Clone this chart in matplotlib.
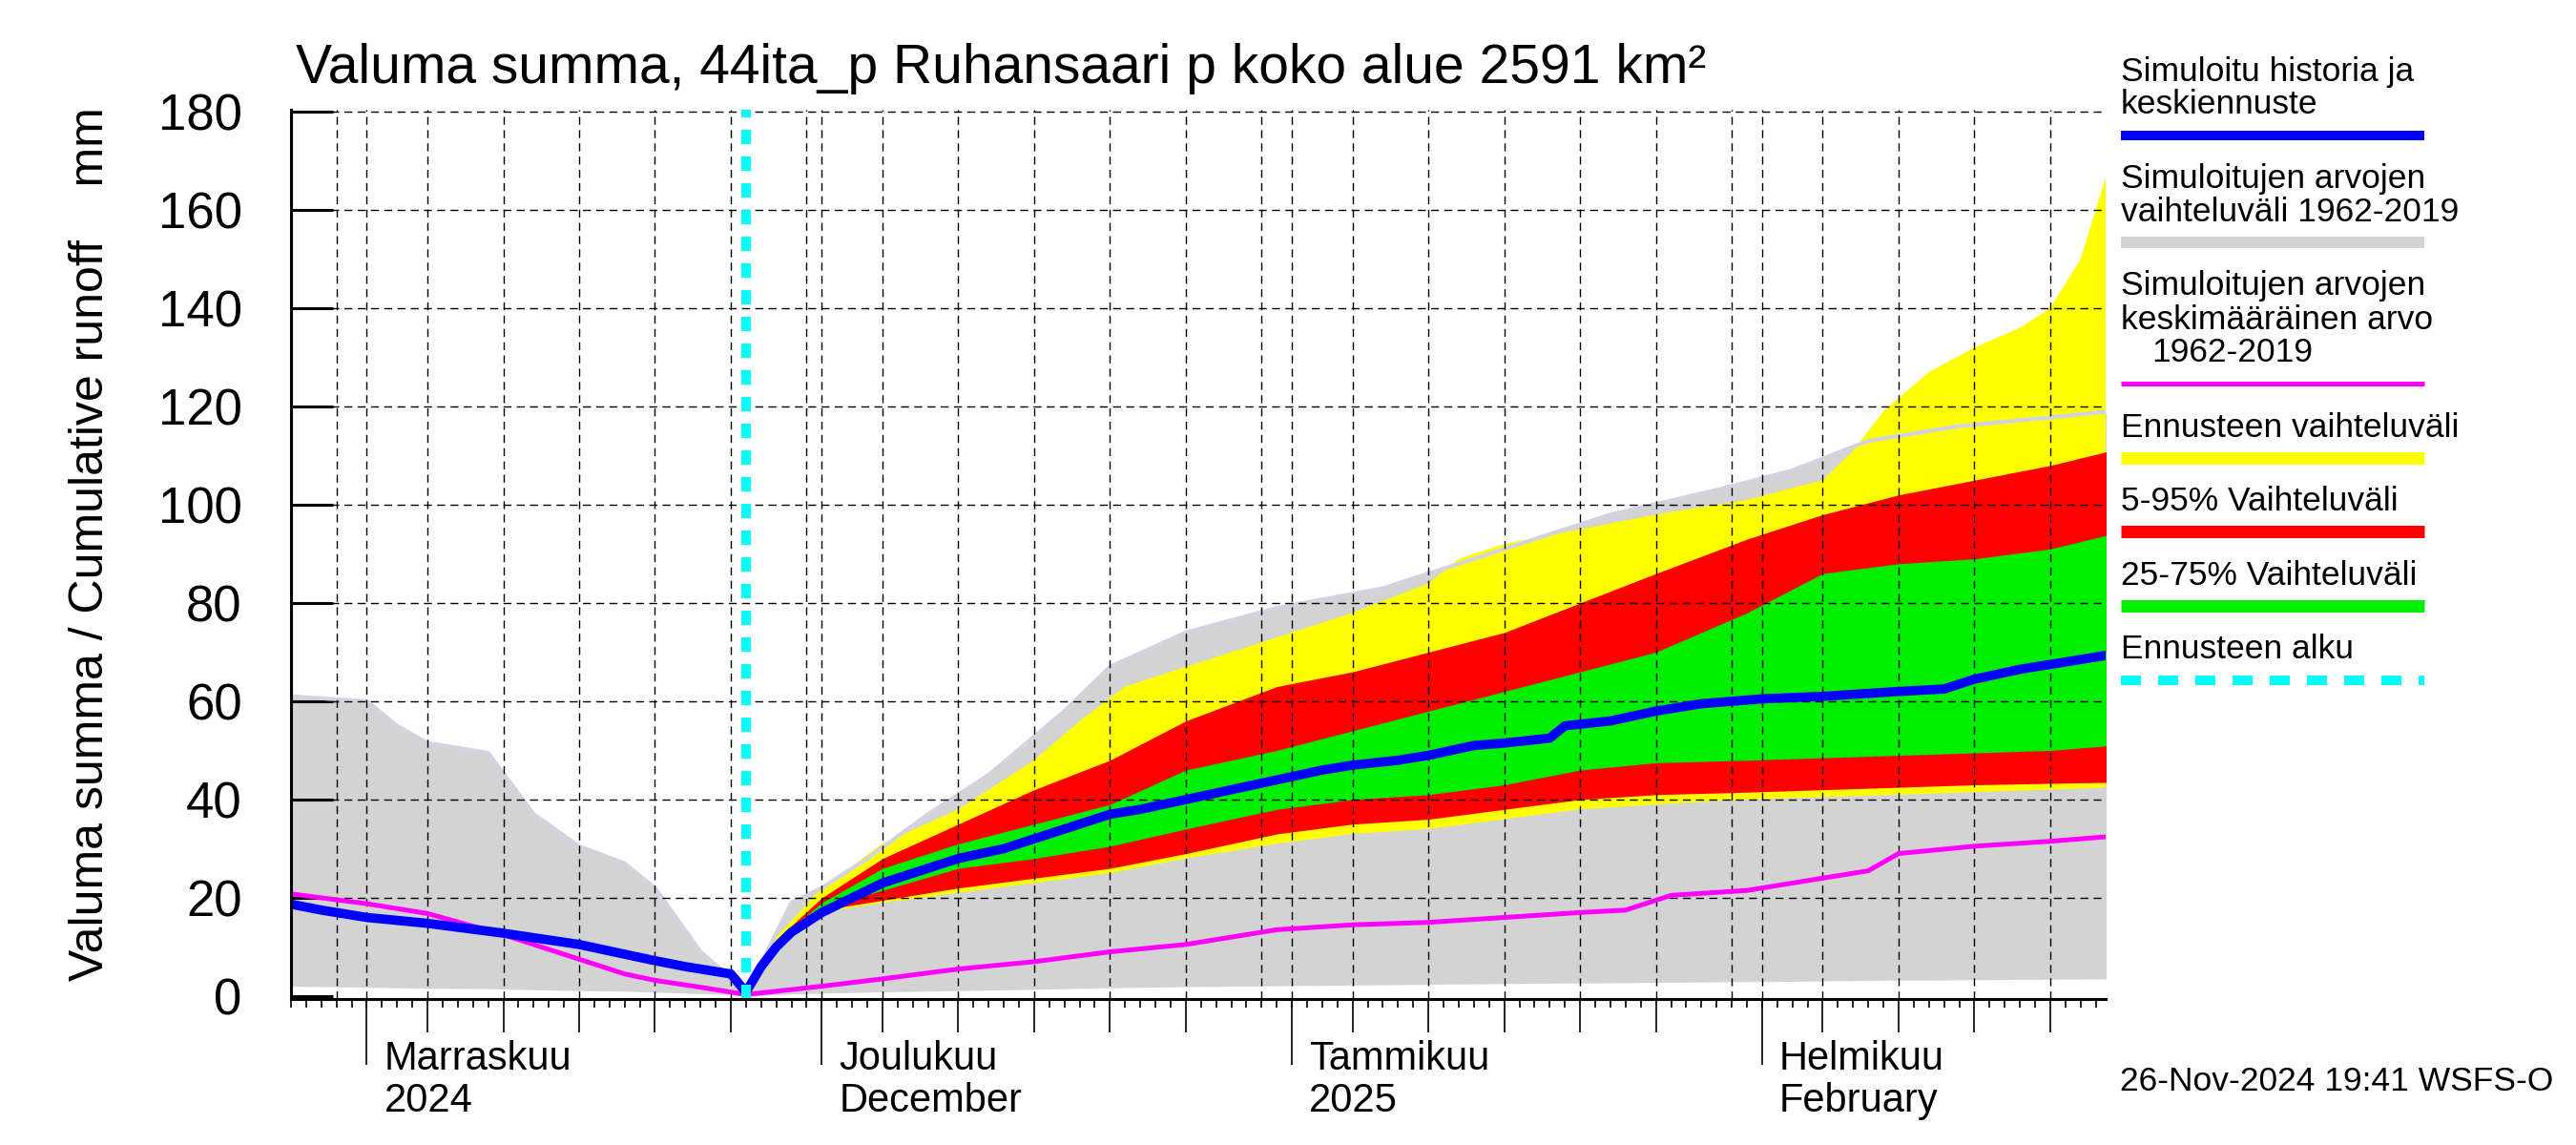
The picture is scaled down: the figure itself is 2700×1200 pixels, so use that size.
import matplotlib
matplotlib.use("Agg")
import matplotlib.pyplot as plt
import matplotlib.dates as mdates
import pandas as pd
import numpy as np
from matplotlib.lines import Line2D

plt.rcParams['font.family'] = ['Liberation Sans', 'DejaVu Sans']

# ---------------- data ----------------
title = "Valuma summa, 44ita_p Ruhansaari p koko alue 2591 km²"
ylabel = "Valuma summa / Cumulative runoff    mm"
timestamp = "26-Nov-2024 19:41 WSFS-O"
forecast_start = "2024-11-26"
month_labels = [("2024-11-01", "Marraskuu", "2024"),
                ("2024-12-01", "Joulukuu", "December"),
                ("2025-01-01", "Tammikuu", "2025"),
                ("2025-02-01", "Helmikuu", "February")]
yticks = [0, 20, 40, 60, 80, 100, 120, 140, 160, 180]

# historical range (gray)
hist_dates = ["2024-10-27", "2024-11-01", "2024-11-03", "2024-11-05", "2024-11-09",
              "2024-11-12", "2024-11-15", "2024-11-18", "2024-11-20", "2024-11-23",
              "2024-11-25", "2024-11-26", "2024-11-29", "2024-12-01", "2024-12-04",
              "2024-12-08", "2024-12-12", "2024-12-17", "2024-12-20", "2024-12-25",
              "2024-12-31", "2025-01-07", "2025-01-10", "2025-01-17", "2025-01-22",
              "2025-01-29", "2025-02-03", "2025-02-08", "2025-02-14", "2025-02-24"]
hist_max = [61, 60, 55, 51.5, 49.5, 37, 30.5, 27, 22, 9, 3.7, 0.5, 19, 22, 28,
            37, 45, 58, 67, 74, 79, 83, 86, 93, 98, 103, 107, 113, 116, 119]
hist_min = [2.0, 1.8, 1.7, 1.6, 1.5, 1.3, 1.1, 1.0, 0.8, 0.5, 0.3, 0.0, 0.4, 0.6, 0.8,
            1.0, 1.2, 1.5, 1.7, 1.9, 2.1, 2.3, 2.4, 2.6, 2.7, 2.9, 3.0, 3.2, 3.3, 3.5]

# historical mean (magenta)
mean_dates = ["2024-10-27", "2024-11-01", "2024-11-05", "2024-11-10", "2024-11-15",
              "2024-11-18", "2024-11-20", "2024-11-23", "2024-11-26", "2024-12-01",
              "2024-12-05", "2024-12-10", "2024-12-15", "2024-12-20", "2024-12-25",
              "2024-12-31", "2025-01-05", "2025-01-10", "2025-01-15", "2025-01-20",
              "2025-01-23", "2025-01-26", "2025-01-31", "2025-02-05", "2025-02-08",
              "2025-02-10", "2025-02-15", "2025-02-20", "2025-02-24"]
mean_vals = [20.8, 18.8, 16.8, 12.5, 7.5, 4.5, 3.2, 1.8, 0.3, 2, 3.5, 5.5, 7,
             9, 10.5, 13.5, 14.5, 15, 16, 17, 17.5, 20.5, 21.5, 24, 25.5, 29,
             30.5, 31.5, 32.5]

# simulated history + median forecast (blue)
med_dates = ["2024-10-27", "2024-10-29", "2024-11-01", "2024-11-05", "2024-11-10",
             "2024-11-15", "2024-11-20", "2024-11-22", "2024-11-25", "2024-11-26",
             "2024-11-27", "2024-11-28", "2024-11-29", "2024-11-30", "2024-12-01",
             "2024-12-03", "2024-12-05", "2024-12-08", "2024-12-10", "2024-12-13",
             "2024-12-15", "2024-12-18", "2024-12-20", "2024-12-22", "2024-12-25",
             "2024-12-28", "2024-12-31", "2025-01-03", "2025-01-05", "2025-01-08",
             "2025-01-10", "2025-01-13", "2025-01-15", "2025-01-18", "2025-01-19",
             "2025-01-22", "2025-01-25", "2025-01-28", "2025-02-01", "2025-02-05",
             "2025-02-10", "2025-02-13", "2025-02-15", "2025-02-18", "2025-02-21",
             "2025-02-24"]
med_vals = [18.7, 17.5, 16, 14.8, 12.8, 10.5, 7.2, 6.0, 4.5, 0.8,
            6, 10, 13, 15, 17, 20, 23, 26, 28, 30, 32, 35, 37, 38, 40,
            42, 44, 46, 47, 48, 49, 51, 51.5, 52.5, 55, 56, 58, 59.5, 60.5,
            61, 62, 62.5, 64.5, 66.5, 68, 69.5]

# forecast bands
fc_dates = ["2024-11-26", "2024-11-28", "2024-12-01", "2024-12-05", "2024-12-10",
            "2024-12-15", "2024-12-20", "2024-12-25", "2024-12-31", "2025-01-05",
            "2025-01-10", "2025-01-15", "2025-01-20", "2025-01-25", "2025-01-31",
            "2025-02-05", "2025-02-10", "2025-02-15", "2025-02-20", "2025-02-24"]
fc_min = [1.0, 10, 17, 19, 21, 23, 25, 28, 31, 33, 34, 36, 38, 39, 40, 40.5,
          41, 41.5, 42, 42.5]
p05 = [1.0, 10.5, 17.5, 19.5, 22, 24, 26, 29, 33, 35, 36, 38, 40, 41, 41.5,
       42, 42.5, 43, 43.3, 43.5]
p95 = [1.0, 11.5, 20, 28, 35, 42, 48, 56, 63, 66, 70, 74, 80, 86, 93, 98,
       102, 105, 108, 111]
p25 = [1.0, 10.8, 18, 21.5, 26, 28, 30.5, 34, 38, 40, 41, 43, 46, 47.5, 48,
       48.5, 49, 49.5, 50, 51]
p75 = [1.0, 11.2, 19, 26, 31, 35, 39, 46, 50, 54, 58, 62, 66, 70, 78, 86,
       88, 89, 91, 94]

# forecast maximum (yellow upper edge) on its own dates
fmax_dates = ["2024-11-26", "2024-11-28", "2024-12-01", "2024-12-05", "2024-12-10",
              "2024-12-15", "2024-12-18", "2024-12-21", "2024-12-25", "2024-12-31",
              "2025-01-05", "2025-01-10", "2025-01-12", "2025-01-15", "2025-01-20",
              "2025-01-25", "2025-01-31", "2025-02-05", "2025-02-07", "2025-02-09",
              "2025-02-12", "2025-02-15", "2025-02-18", "2025-02-20", "2025-02-22",
              "2025-02-24"]
fmax_vals = [1.0, 12, 22, 31, 38, 48, 56, 63, 67, 73, 78, 84, 89, 92, 95,
             98, 101, 105, 111, 119, 127, 132, 136, 140, 150, 170]

# ---------------- figure ----------------
W, H = 2700, 1200
fig = plt.figure(figsize=(W / 100, H / 100), dpi=100)
L, R, T, B = 305, 2207, 115, 1047
ax = fig.add_axes([L / W, 1 - B / H, (R - L) / W, (B - T) / H])

td = lambda s: pd.to_datetime(s)
hd = pd.to_datetime(hist_dates)
ax.fill_between(hd, hist_min, hist_max, color="#d3d3d3", lw=0, zorder=1)
fd = pd.to_datetime(fc_dates)
# yellow: polygon from the max edge forward and the min edge backward
ydates = list(pd.to_datetime(fmax_dates)) + list(fd[::-1])
yvals = list(fmax_vals) + list(fc_min[::-1])
ax.fill(ydates, yvals, color="#ffff00", lw=0, zorder=2)
ax.fill_between(fd, p05, p95, color="#ff0000", lw=0, zorder=2.1)
ax.fill_between(fd, p25, p75, color="#00ee00", lw=0, zorder=2.2)
ax.plot(hd, hist_max, color="#d3d3e0", lw=3, zorder=2.3)

ax.plot(pd.to_datetime(mean_dates), mean_vals, color="#ff00ff", lw=3.6, zorder=5)
ax.plot(pd.to_datetime(med_dates), med_vals, color="#0000ff", lw=7, zorder=6,
        solid_joinstyle="round")
ax.axvline(td(forecast_start), color="#00ffff", lw=7.2, dashes=(1.5, 1.3), zorder=7)

x0 = td("2024-10-27")
x1 = td("2024-11-01") + pd.Timedelta(days=(R - 384) / 15.9)

# grid
days = pd.date_range(x0, x1, freq="D")
grid_days = [d for d in days if d.day in (1, 5, 10, 15, 20, 25, 30)]
for d in grid_days:
    ax.axvline(d, color="black", lw=1.0, dashes=(6, 4), zorder=3)
for yv in yticks[1:]:
    ax.axhline(yv, color="black", lw=1.0, dashes=(6, 4), zorder=3)

# y axis
ax.set_yticks(yticks)
ax.tick_params(axis="y", direction="in", length=32, width=2.2, labelsize=38,
               pad=37, left=True, right=False)
# x axis: daily minor, 5-day major
five = [d for d in days if d.day in (5, 10, 15, 20, 25)]
ax.set_xticks(five)
ax.set_xticklabels([])
ax.set_xticks(days, minor=True)
ax.tick_params(axis="x", which="major", direction="out", length=25, width=1.2)
ax.tick_params(axis="x", which="minor", direction="out", length=6.5, width=1.2)
sec = ax.secondary_xaxis("bottom")
sec.set_xticks([td(m[0]) for m in month_labels])
sec.set_xticklabels([])
sec.tick_params(direction="out", length=50, width=1.2)
sec.spines["bottom"].set_visible(False)

ax.set_xlim(x0, x1)
ax.set_ylim(-0.6, 180.4)

for s in ["top", "right"]:
    ax.spines[s].set_visible(False)
ax.spines["left"].set_linewidth(2.2)
ax.spines["bottom"].set_linewidth(2.2)
ax.spines["left"].set_zorder(10)
ax.spines["bottom"].set_zorder(10)

# month labels
for d, a, b in month_labels:
    xf = (mdates.date2num(td(d)) - mdates.date2num(x0)) / (mdates.date2num(x1) - mdates.date2num(x0))
    px = L + xf * (R - L) + 18
    fig.text(px / W, 1 - 1121 / H, a, fontsize=30, ha="left", va="baseline")
    fig.text(px / W, 1 - 1165 / H, b, fontsize=30, ha="left", va="baseline")

# title, ylabel, timestamp
fig.text(310 / W, 1 - 87 / H, title, fontsize=41, ha="left", va="baseline")
fig.text(95 / W, 1 - 570 / H, ylabel, fontsize=36, rotation=90, ha="center", va="center",
         family=["Liberation Sans Narrow", "Liberation Sans"])
fig.text(2676 / W, 1 - 1143 / H, timestamp, fontsize=25.5, ha="right", va="baseline")

# legend
lx0, lx1 = 2223, 2541
fs = 25.5
entries = [
    ([("Simuloitu historia ja", 85, 0), ("keskiennuste", 119, 0)], 142, dict(color="#0000ff", lw=7.2)),
    ([("Simuloitujen arvojen", 197, 0), ("vaihteluväli 1962-2019", 232, 0)], 254, dict(color="#d3d3d3", lw=8.6)),
    ([("Simuloitujen arvojen", 309, 0), ("keskimääräinen arvo", 345, 0), ("1962-2019", 379, 32)], 402, dict(color="#ff00ff", lw=3.6)),
    ([("Ennusteen vaihteluväli", 458, 0)], 480, dict(color="#ffff00", lw=9.4)),
    ([("5-95% Vaihteluväli", 535, 0)], 557, dict(color="#ff0000", lw=9.4)),
    ([("25-75% Vaihteluväli", 613, 0)], 635, dict(color="#00ee00", lw=9.4)),
    ([("Ennusteen alku", 690, 0)], 713, dict(color="#00ffff", lw=7.2, dashes=(2.1, 1.8))),
]
for lines, ly, style in entries:
    for txt, by, dx in lines:
        fig.text((lx0 + dx) / W, 1 - by / H, txt, fontsize=fs, ha="left", va="baseline")
    fig.add_artist(Line2D([lx0 / W, lx1 / W], [1 - ly / H, 1 - ly / H],
                          transform=fig.transFigure, solid_capstyle="butt",
                          dash_capstyle="butt", **style))

fig.savefig("out.png", dpi=100)
